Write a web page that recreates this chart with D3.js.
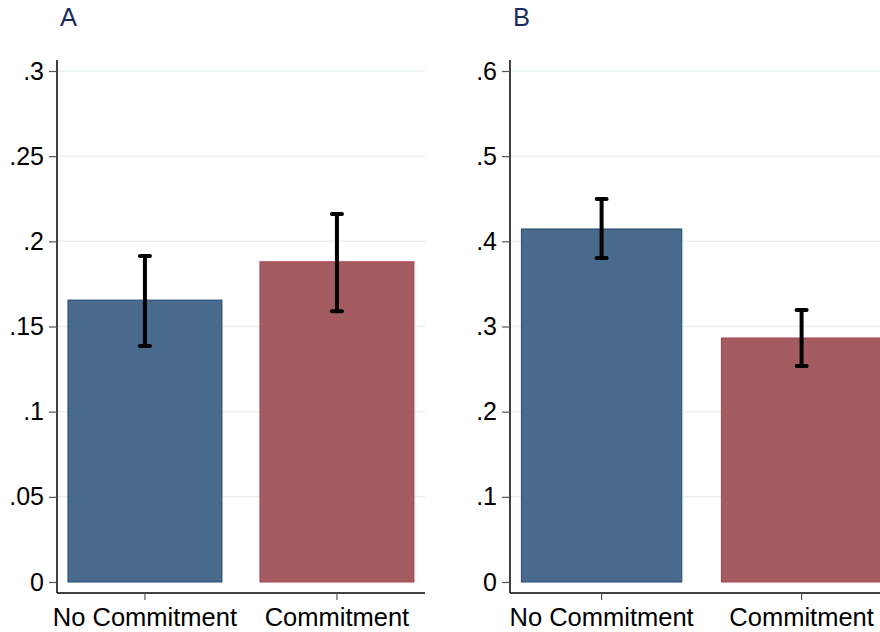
<!DOCTYPE html>
<html>
<head>
<meta charset="utf-8">
<script src="https://cdn.jsdelivr.net/npm/d3@7"></script>
<style>
  body { margin: 0; background: #fff; }
  text { font-family: "Liberation Sans", Arial, Helvetica, sans-serif; }
</style>
</head>
<body>
<svg width="880" height="632"></svg>
<script>
"use strict";

const categories = ['No Commitment', 'Commitment'];

// panel A
const meansA = [0.1655, 0.188];
const lowA = [0.1386, 0.159];
const highA = [0.1914, 0.216];
const ticksA = [0, 0.05, 0.1, 0.15, 0.2, 0.25, 0.3];

// panel B
const meansB = [0.4145, 0.2865];
const lowB = [0.3804, 0.2536];
const highB = [0.4497, 0.3194];
const ticksB = [0, 0.1, 0.2, 0.3, 0.4, 0.5, 0.6];

const fills = ['#486a8c', '#a45c60'];
const strokes = ['#244a70', '#a8424c'];

const svg = d3.select('svg');
const fmt = v => v === 0 ? '0' : String(v).replace(/^0/, '');

function panel(opts) {
    const { title, left, right, yMax, means, low, high, ticks, step } = opts;
    const top = 71, bottom = 582, axisY = 593;

    const y = d3.scaleLinear().domain([0, yMax]).range([bottom, top]);
    const x = d3.scaleBand().domain(categories)
        .range([left, left + step * 2 - step * 0.198 + step * 0.114])
        .paddingInner(0.198).paddingOuter(0.057);

    const g = svg.append('g');

    g.append('text')
        .attr('x', left + 3).attr('y', 26)
        .attr('fill', '#1c2d5a')
        .attr('font-size', 25.5)
        .text(title);

    // grid
    g.selectAll('.grid').data(ticks.slice(1)).join('line')
        .attr('x1', left).attr('x2', right)
        .attr('y1', d => y(d)).attr('y2', d => y(d))
        .attr('stroke', '#eaf0f2').attr('stroke-width', 1.5);

    // bars
    g.selectAll('.bar').data(means).join('rect')
        .attr('x', (d, i) => x(categories[i]))
        .attr('width', x.bandwidth())
        .attr('y', d => y(d))
        .attr('height', d => y(0) - y(d))
        .attr('fill', (d, i) => fills[i])
        .attr('stroke', (d, i) => strokes[i])
        .attr('stroke-width', 1);

    // error bars
    const eb = g.selectAll('.eb').data(means).join('g')
        .attr('stroke', '#000').attr('stroke-width', 4).attr('stroke-linecap', 'round');
    eb.append('line')
        .attr('x1', (d, i) => x(categories[i]) + x.bandwidth() / 2)
        .attr('x2', (d, i) => x(categories[i]) + x.bandwidth() / 2)
        .attr('y1', (d, i) => y(low[i]))
        .attr('y2', (d, i) => y(high[i]));
    [low, high].forEach(arr => {
        eb.append('line')
            .attr('x1', (d, i) => x(categories[i]) + x.bandwidth() / 2 - 5)
            .attr('x2', (d, i) => x(categories[i]) + x.bandwidth() / 2 + 5)
            .attr('y1', (d, i) => y(arr[i]))
            .attr('y2', (d, i) => y(arr[i]));
    });

    // y axis
    const yAxis = g.append('g')
        .attr('transform', `translate(${left},0)`)
        .call(d3.axisLeft(y).tickValues(ticks).tickFormat(fmt).tickSize(8).tickPadding(5));
    yAxis.select('.domain').attr('d', `M0,60V${axisY}`).attr('stroke', '#000').attr('stroke-width', 1.5);
    yAxis.selectAll('.tick line').attr('stroke', '#555').attr('stroke-width', 1.2);
    yAxis.selectAll('.tick text').attr('font-size', 25).attr('fill', '#000')
        .attr('font-family', '"Liberation Sans", Arial, sans-serif');

    // x axis
    const xAxis = g.append('g')
        .attr('transform', `translate(0,${axisY})`)
        .call(d3.axisBottom(x).tickSize(7).tickPadding(8));
    xAxis.select('.domain').attr('d', `M${left},0H${right}`).attr('stroke', '#000').attr('stroke-width', 1.5);
    xAxis.selectAll('.tick line').attr('stroke', '#555').attr('stroke-width', 1.2);
    xAxis.selectAll('.tick text').attr('font-size', 25.5).attr('fill', '#000')
        .attr('font-family', '"Liberation Sans", Arial, sans-serif');
}

panel({ title: 'A', left: 57, right: 425, yMax: 0.3, means: meansA, low: lowA, high: highA, ticks: ticksA, step: 192 });
panel({ title: 'B', left: 510, right: 880, yMax: 0.6, means: meansB, low: lowB, high: highB, ticks: ticksB, step: 200 });
</script>
</body>
</html>
